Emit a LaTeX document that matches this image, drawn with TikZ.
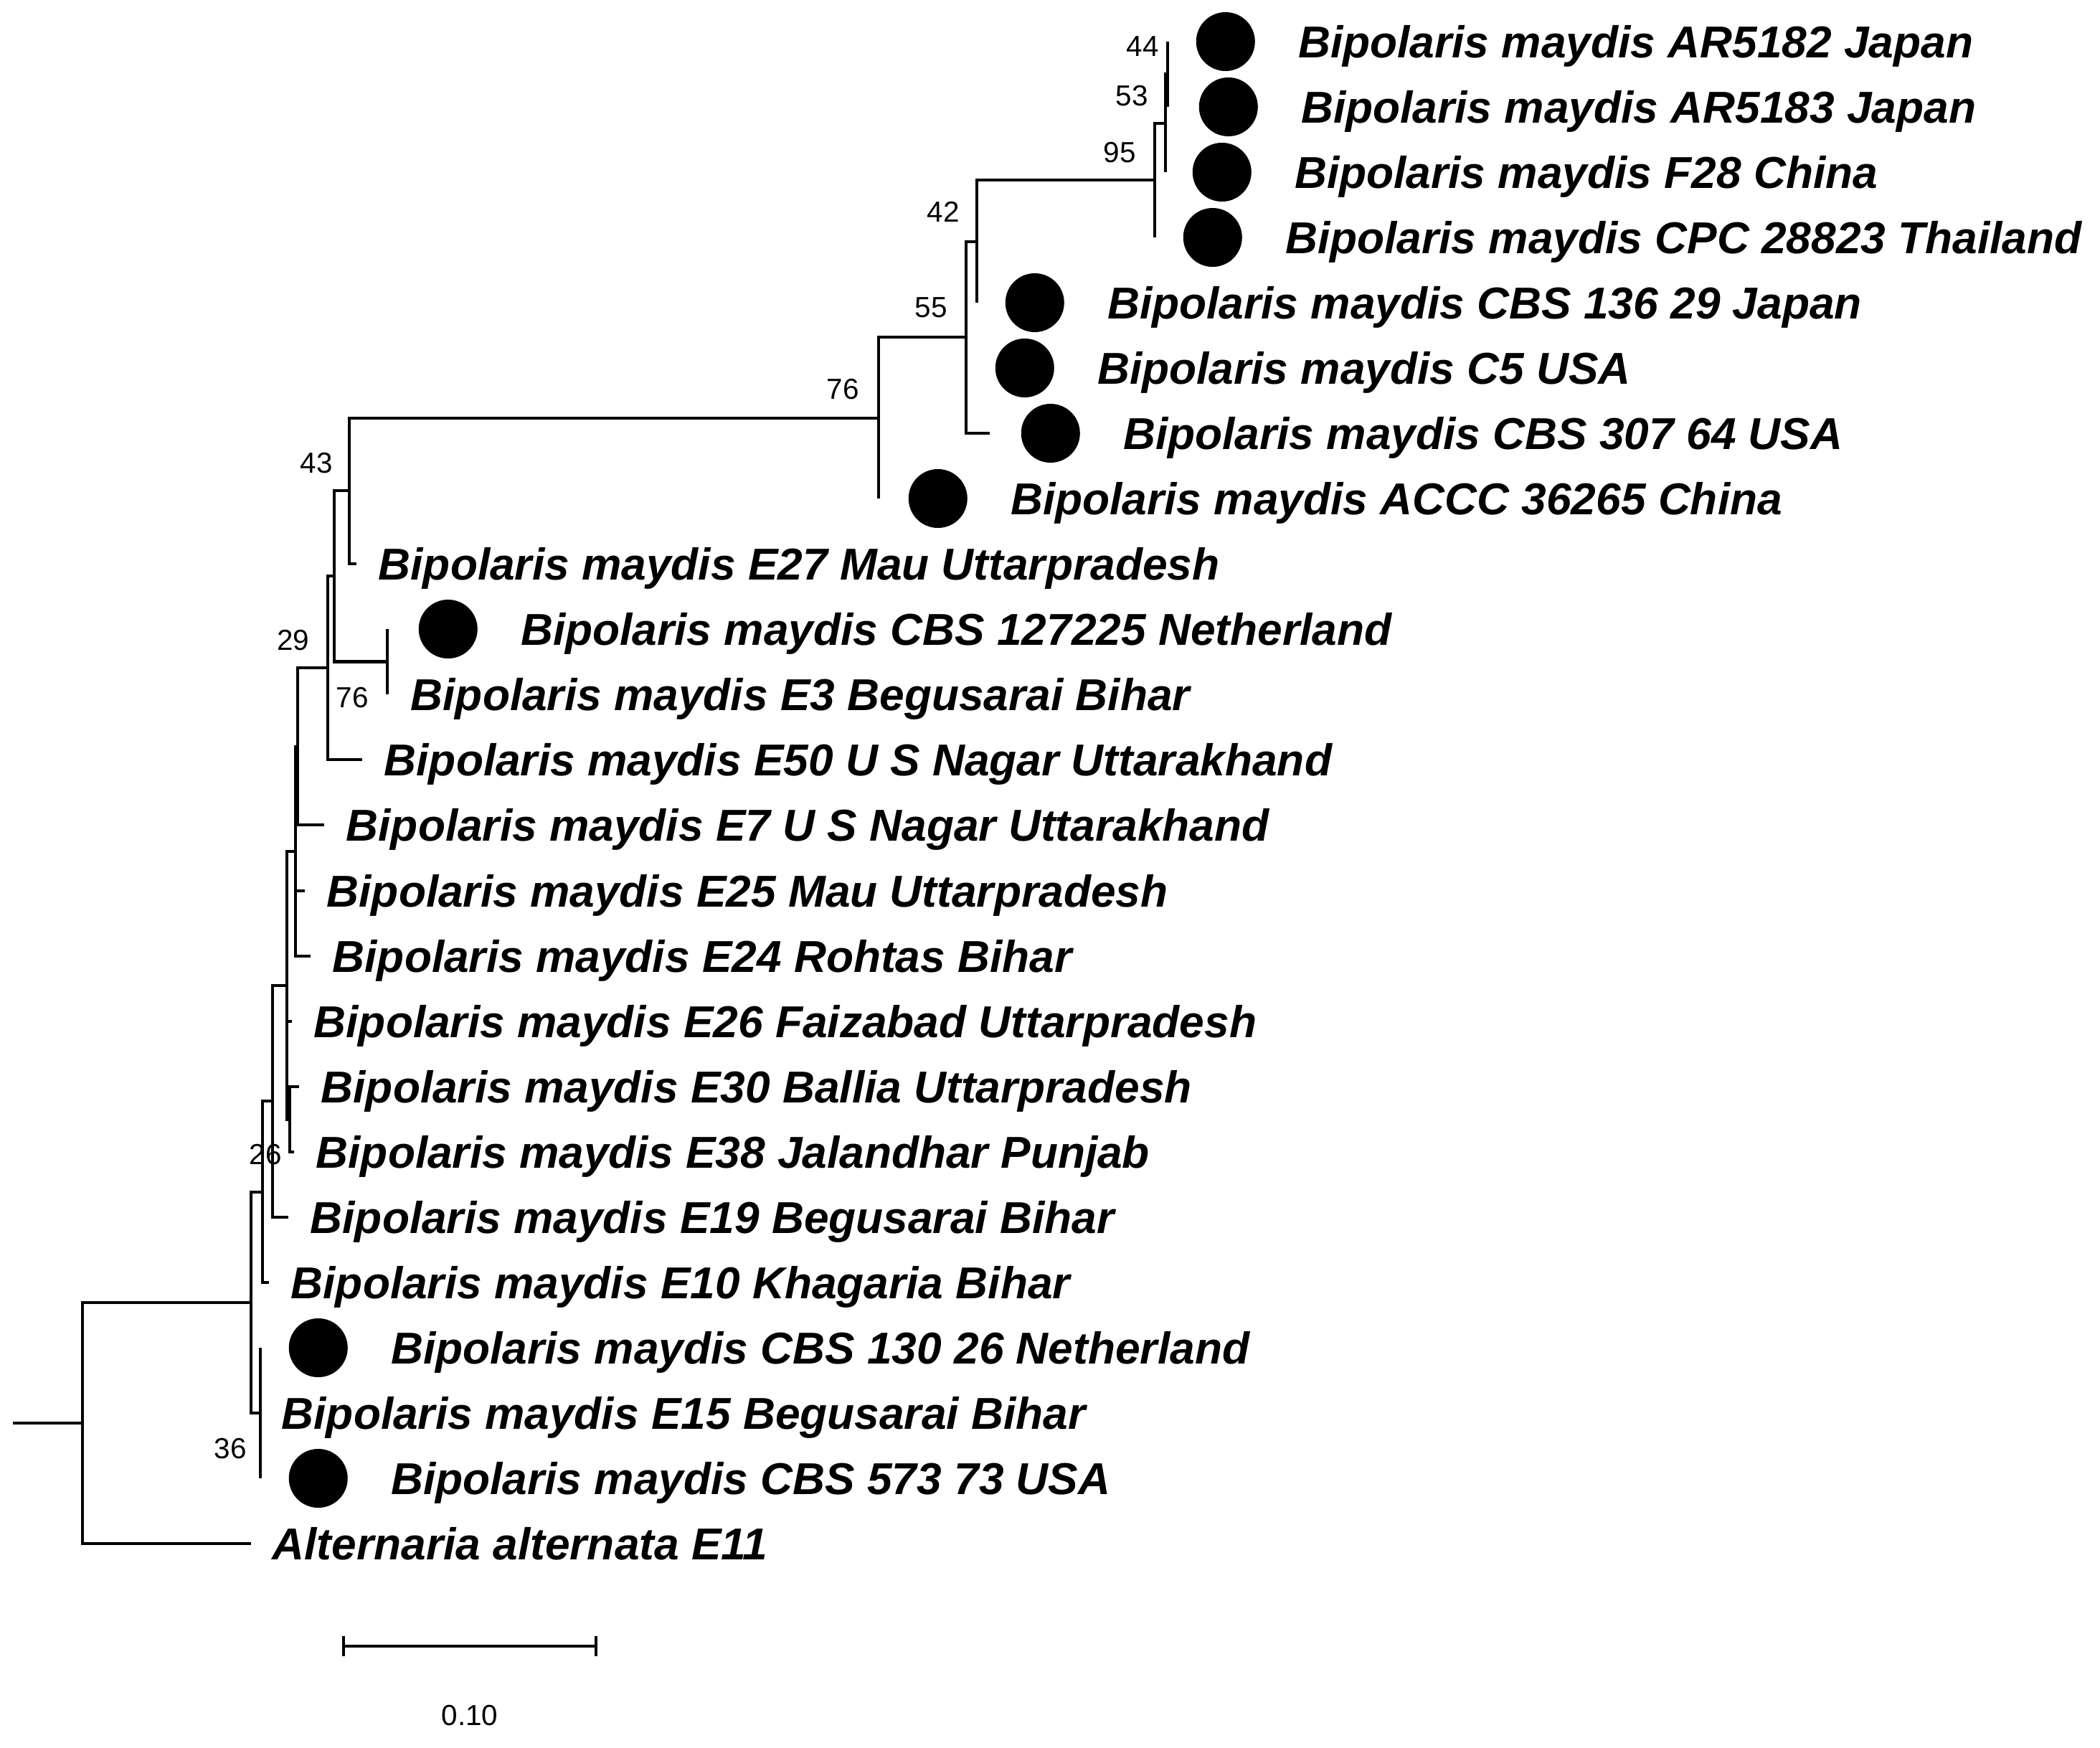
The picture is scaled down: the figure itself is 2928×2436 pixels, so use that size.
\documentclass[tikz,border=0pt]{standalone}
\usepackage{fontspec}
\setmainfont{Liberation Sans}
\usepackage{tikz}
\usetikzlibrary{positioning, arrows.meta}

\begin{document}
\begin{tikzpicture}[
    x=0.01cm, y=-0.01cm,
    tree/.style={line width=1.15pt},
    leaf/.style={anchor=west, inner sep=0pt, text height=12.7pt, text depth=0pt, font=\fontsize{17.7pt}{20pt}\selectfont\bfseries\itshape},
    dot/.style={circle, fill=black, inner sep=0pt, minimum size=0.82cm},
    boot/.style={inner sep=0pt, font=\fontsize{11.5pt}{13pt}\selectfont}
]
\useasboundingbox (0,0) rectangle (2928,2436);

% tips
\coordinate (t0) at (1628,58);
\coordinate (t1) at (1628,149);
\coordinate (t2) at (1625,240);
\coordinate (t3) at (1610,331);
\coordinate (t4) at (1362,422);
\coordinate (t5) at (1347,513);
\coordinate (t6) at (1380,604);
\coordinate (t7) at (1225,695);
\coordinate (t8) at (497,786);
\coordinate (t9) at (540,877);
\coordinate (t10) at (540,968);
\coordinate (t11) at (505,1059);
\coordinate (t12) at (452,1150);
\coordinate (t13) at (425,1242);
\coordinate (t14) at (433,1333);
\coordinate (t15) at (407,1424);
\coordinate (t16) at (417,1515);
\coordinate (t17) at (410,1606);
\coordinate (t18) at (402,1697);
\coordinate (t19) at (375,1788);
\coordinate (t20) at (363,1879);
\coordinate (t21) at (363,1970);
\coordinate (t22) at (363,2061);
\coordinate (t23) at (350,2152);

% internal nodes
\coordinate (n44) at (1628,103.5);
\coordinate (n53) at (1625,171.8);
\coordinate (n95) at (1610,251.4);
\coordinate (n42) at (1362,336.7);
\coordinate (n55) at (1347,470.4);
\coordinate (n76) at (1225,582.7);
\coordinate (n43) at (487,684.3);
\coordinate (n76b) at (540,922.5);
\coordinate (na) at (466,803.4);
\coordinate (nb) at (457,931.2);
\coordinate (nc) at (415,1040.6);
\coordinate (nd) at (412,1186.8);
\coordinate (nf) at (404,1560.5);
\coordinate (ne) at (400,1373.7);
\coordinate (ng) at (380,1535.3);
\coordinate (nh) at (366,1661.7);
\coordinate (nj) at (363,1970);
\coordinate (ni) at (350,1815.8);
\coordinate (root) at (115,1983.9);
\coordinate (base) at (18,1983.9);

% branches
\draw[tree] (base) -- (root);
\draw[tree] (root) |- (ni) (root) |- (t23);
\draw[tree] (ni) |- (nh) (ni) |- (nj);
\draw[tree] (nj) |- (t20) (nj) |- (t21) (nj) |- (t22);
\draw[tree] (nh) |- (ng) (nh) |- (t19);
\draw[tree] (ng) |- (ne) (ng) |- (t18);
\draw[tree] (ne) |- (nd) (ne) |- (t15) (ne) |- (nf);
\draw[tree] (nf) |- (t16) (nf) |- (t17);
\draw[tree] (nd) |- (nc) (nd) |- (t13) (nd) |- (t14);
\draw[tree] (nc) |- (nb) (nc) |- (t12);
\draw[tree] (nb) |- (na) (nb) |- (t11);
\draw[tree] (na) |- (n43) (na) |- (n76b);
\draw[tree] (n76b) |- (t9) (n76b) |- (t10);
\draw[tree] (n43) |- (n76) (n43) |- (t8);
\draw[tree] (n76) |- (n55) (n76) |- (t7);
\draw[tree] (n55) |- (n42) (n55) |- (t5) (n55) |- (t6);
\draw[tree] (n42) |- (n95) (n42) |- (t4);
\draw[tree] (n95) |- (n53) (n95) |- (t3);
\draw[tree] (n53) |- (n44) (n53) |- (t2);
\draw[tree] (n44) |- (t0) (n44) |- (t1);

% dots and labels
\node[dot, right=0.39cm of t0] (dt0) {};
\node[leaf, right=0.59cm of dt0] (lb0) {Bipolaris maydis AR5182 Japan};
\node[dot, right=0.43cm of t1] (dt1) {};
\node[leaf, right=0.59cm of dt1] (lb1) {Bipolaris maydis AR5183 Japan};
\node[dot, right=0.37cm of t2] (dt2) {};
\node[leaf, right=0.59cm of dt2] (lb2) {Bipolaris maydis F28 China};
\node[dot, right=0.39cm of t3] (dt3) {};
\node[leaf, right=0.59cm of dt3] (lb3) {Bipolaris maydis CPC 28823 Thailand};
\node[dot, right=0.39cm of t4] (dt4) {};
\node[leaf, right=0.59cm of dt4] (lb4) {Bipolaris maydis CBS 136 29 Japan};
\node[dot, right=0.40cm of t5] (dt5) {};
\node[leaf, right=0.59cm of dt5] (lb5) {Bipolaris maydis C5 USA};
\node[dot, right=0.43cm of t6] (dt6) {};
\node[leaf, right=0.59cm of dt6] (lb6) {Bipolaris maydis CBS 307 64 USA};
\node[dot, right=0.41cm of t7] (dt7) {};
\node[leaf, right=0.59cm of dt7] (lb7) {Bipolaris maydis ACCC 36265 China};
\node[leaf, right=0.30cm of t8] (lb8) {Bipolaris maydis E27 Mau Uttarpradesh};
\node[dot, right=0.43cm of t9] (dt9) {};
\node[leaf, right=0.59cm of dt9] (lb9) {Bipolaris maydis CBS 127225 Netherland};
\node[leaf, right=0.32cm of t10] (lb10) {Bipolaris maydis E3 Begusarai Bihar};
\node[leaf, right=0.30cm of t11] (lb11) {Bipolaris maydis E50 U S Nagar Uttarakhand};
\node[leaf, right=0.30cm of t12] (lb12) {Bipolaris maydis E7 U S Nagar Uttarakhand};
\node[leaf, right=0.30cm of t13] (lb13) {Bipolaris maydis E25 Mau Uttarpradesh};
\node[leaf, right=0.30cm of t14] (lb14) {Bipolaris maydis E24 Rohtas Bihar};
\node[leaf, right=0.30cm of t15] (lb15) {Bipolaris maydis E26 Faizabad Uttarpradesh};
\node[leaf, right=0.30cm of t16] (lb16) {Bipolaris maydis E30 Ballia Uttarpradesh};
\node[leaf, right=0.30cm of t17] (lb17) {Bipolaris maydis E38 Jalandhar Punjab};
\node[leaf, right=0.30cm of t18] (lb18) {Bipolaris maydis E19 Begusarai Bihar};
\node[leaf, right=0.30cm of t19] (lb19) {Bipolaris maydis E10 Khagaria Bihar};
\node[dot, right=0.39cm of t20] (dt20) {};
\node[leaf, right=0.59cm of dt20] (lb20) {Bipolaris maydis CBS 130 26 Netherland};
\node[leaf, right=0.29cm of t21] (lb21) {Bipolaris maydis E15 Begusarai Bihar};
\node[dot, right=0.39cm of t22] (dt22) {};
\node[leaf, right=0.59cm of dt22] (lb22) {Bipolaris maydis CBS 573 73 USA};
\node[leaf, right=0.29cm of t23] (lb23) {Alternaria alternata E11};

% bootstrap values
\node[boot] (bs44) at (1593,65) {44};
\node[boot] (bs53) at (1578,134) {53};
\node[boot] (bs95) at (1561,213) {95};
\node[boot] (bs42) at (1315,295) {42};
\node[boot] (bs55) at (1298,429) {55};
\node[boot] (bs76) at (1175,543) {76};
\node[boot] (bs43) at (441,646) {43};
\node[boot] (bs29) at (409,893) {29};
\node[boot] (bs76b) at (491,973) {76};
\node[boot] (bs26) at (370,1610) {26};
\node[boot] (bs36) at (321,2020) {36};

% scale bar
\coordinate (sbl) at (477,2295);
\coordinate (sbr) at (833,2295);
\draw[tree, {Bar[width=0.28cm]}-{Bar[width=0.28cm]}] (sbl) -- (sbr);
\node[boot] (sblab) at (655,2392) {0.10};
\end{tikzpicture}
\end{document}
